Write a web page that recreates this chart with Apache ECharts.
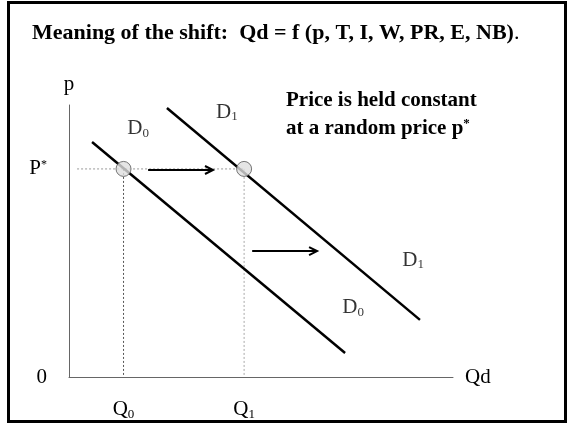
<!DOCTYPE html>
<html>
<head>
<meta charset="utf-8">
<script src="https://cdn.jsdelivr.net/npm/echarts@6/dist/echarts.min.js"></script>
<style>
  html, body { margin: 0; padding: 0; background: #fff; }
  #chart { width: 568px; height: 424px; }
</style>
</head>
<body>
<div id="chart"></div>
<script>
// Demand shift diagram: price held fixed at p*, quantity demanded moves Q0 -> Q1.
const SERIF = '"Liberation Serif", "DejaVu Serif", serif';

const quantityTicks = [1.42, 4.56];
const quantityTickLabels = ['Q0', 'Q1'];
const priceTicks = [0, 7.65];
const priceTickLabels = ['0', 'P*'];

const demandD0 = [[0.60, 8.64], [7.19, 0.88]];
const demandD1 = [[2.55, 9.89], [9.14, 2.10]];
const pointsAtPStar = [[1.42, 7.65], [4.56, 7.65]];
const guideLines = [
  [[0.21, 7.65], [4.56, 7.65], '#999'],
  [[1.42, 7.65], [1.42, 0], '#555'],
  [[4.56, 7.65], [4.56, 0], '#aaa']
];
const shiftArrows = [[2.06, 7.61, 3.75, 7.61], [4.77, 4.63, 6.46, 4.63]];
const curveLabels = [
  [1.80, 9.15, '0'], [4.11, 9.74, '1'], [8.96, 4.30, '1'], [7.40, 2.57, '0']
];

const subRich = {
  m: { fontFamily: SERIF, fontSize: 21, color: '#000' },
  s: { fontFamily: SERIF, fontSize: 13, color: '#000', padding: [10, 0, 0, 0] },
  sup: { fontFamily: SERIF, fontSize: 12, color: '#000', padding: [0, 0, 9, 0] }
};

const chart = echarts.init(document.getElementById('chart'), null, { renderer: 'canvas' });

const series = [];

guideLines.forEach(function (g) {
  series.push({
    type: 'line', data: [g[0], g[1]], symbol: 'none', silent: true, z: 1,
    lineStyle: { color: g[2], width: 1, type: [2, 2] }
  });
});

[demandD0, demandD1].forEach(function (d) {
  series.push({
    type: 'line', data: d, symbol: 'none', silent: true, z: 2,
    lineStyle: { color: '#000', width: 2.5 }
  });
});

series.push({
  type: 'scatter', data: pointsAtPStar, symbol: 'circle', symbolSize: 15, z: 4,
  itemStyle: { color: '#dedede', borderColor: '#555', borderWidth: 1 }
});

series.push({
  type: 'custom', data: shiftArrows, z: 3,
  renderItem: function (params, api) {
    const a = api.coord([api.value(0), api.value(1)]);
    const b = api.coord([api.value(2), api.value(3)]);
    const style = { stroke: '#000', lineWidth: 2, fill: 'none' };
    return {
      type: 'group',
      children: [
        { type: 'line', shape: { x1: a[0], y1: a[1], x2: b[0], y2: b[1] }, style: style },
        { type: 'polyline', shape: { points: [[b[0] - 8, b[1] - 4], [b[0], b[1]], [b[0] - 8, b[1] + 4]] }, style: style }
      ]
    };
  }
});

series.push({
  type: 'scatter', data: curveLabels, symbolSize: 0, z: 5,
  label: {
    show: true, position: 'inside',
    formatter: function (p) { return '{m|D}{s|' + p.value[2] + '}'; },
    rich: subRich
  }
});

chart.setOption({
  animation: false,
  backgroundColor: '#fff',
  grid: { left: 69, top: 105, width: 384, height: 272 },
  xAxis: {
    type: 'value', min: 0, max: 10,
    name: 'Qd', nameLocation: 'end', nameGap: 12,
    nameTextStyle: { fontFamily: SERIF, fontSize: 21, color: '#000', verticalAlign: 'middle' },
    axisLine: { lineStyle: { color: '#666', width: 1 } },
    axisTick: { show: false },
    splitLine: { show: false },
    axisLabel: {
      customValues: quantityTicks, margin: 21,
      formatter: function (v) {
        const t = quantityTickLabels[quantityTicks.indexOf(v)] || '';
        return '{m|' + t.charAt(0) + '}{s|' + t.slice(1) + '}';
      },
      rich: subRich
    }
  },
  yAxis: {
    type: 'value', min: 0, max: 10,
    name: 'p', nameLocation: 'end', nameGap: 10,
    nameTextStyle: { fontFamily: SERIF, fontSize: 21, color: '#000', align: 'center' },
    axisLine: { show: true, lineStyle: { color: '#666', width: 1 } },
    axisTick: { show: false },
    splitLine: { show: false },
    axisLabel: {
      customValues: priceTicks, margin: 22,
      formatter: function (v) {
        const t = priceTickLabels[priceTicks.indexOf(v)] || '';
        return t.length > 1 ? '{m|' + t.charAt(0) + '}{sup|' + t.slice(1) + '}' : '{m|' + t + '}';
      },
      rich: subRich
    }
  },
  graphic: [
    {
      type: 'rect', shape: { x: 8.5, y: 2.5, width: 557, height: 419 },
      style: { fill: 'none', stroke: '#000', lineWidth: 3 }, z: 10
    },
    {
      type: 'text', left: 32, top: 22,
      style: {
        text: '{b|Meaning of the shift:  Qd = f (p, T, I, W, PR, E, NB)}{n|.}',
        rich: {
          b: { fontFamily: SERIF, fontSize: 22, fontWeight: 'bold', fill: '#000' },
          n: { fontFamily: SERIF, fontSize: 22, fill: '#000' }
        }
      }
    },
    {
      type: 'text', left: 286, top: 90,
      style: {
        text: '{b|Price is held constant}\n{b|at a random price p}{sup|*}',
        rich: {
          b: { fontFamily: SERIF, fontSize: 21, fontWeight: 'bold', fill: '#000', lineHeight: 28 },
          sup: { fontFamily: SERIF, fontSize: 13, fontWeight: 'bold', fill: '#000', lineHeight: 28, padding: [0, 0, 10, 0] }
        }
      }
    }
  ],
  series: series
});
</script>
</body>
</html>
